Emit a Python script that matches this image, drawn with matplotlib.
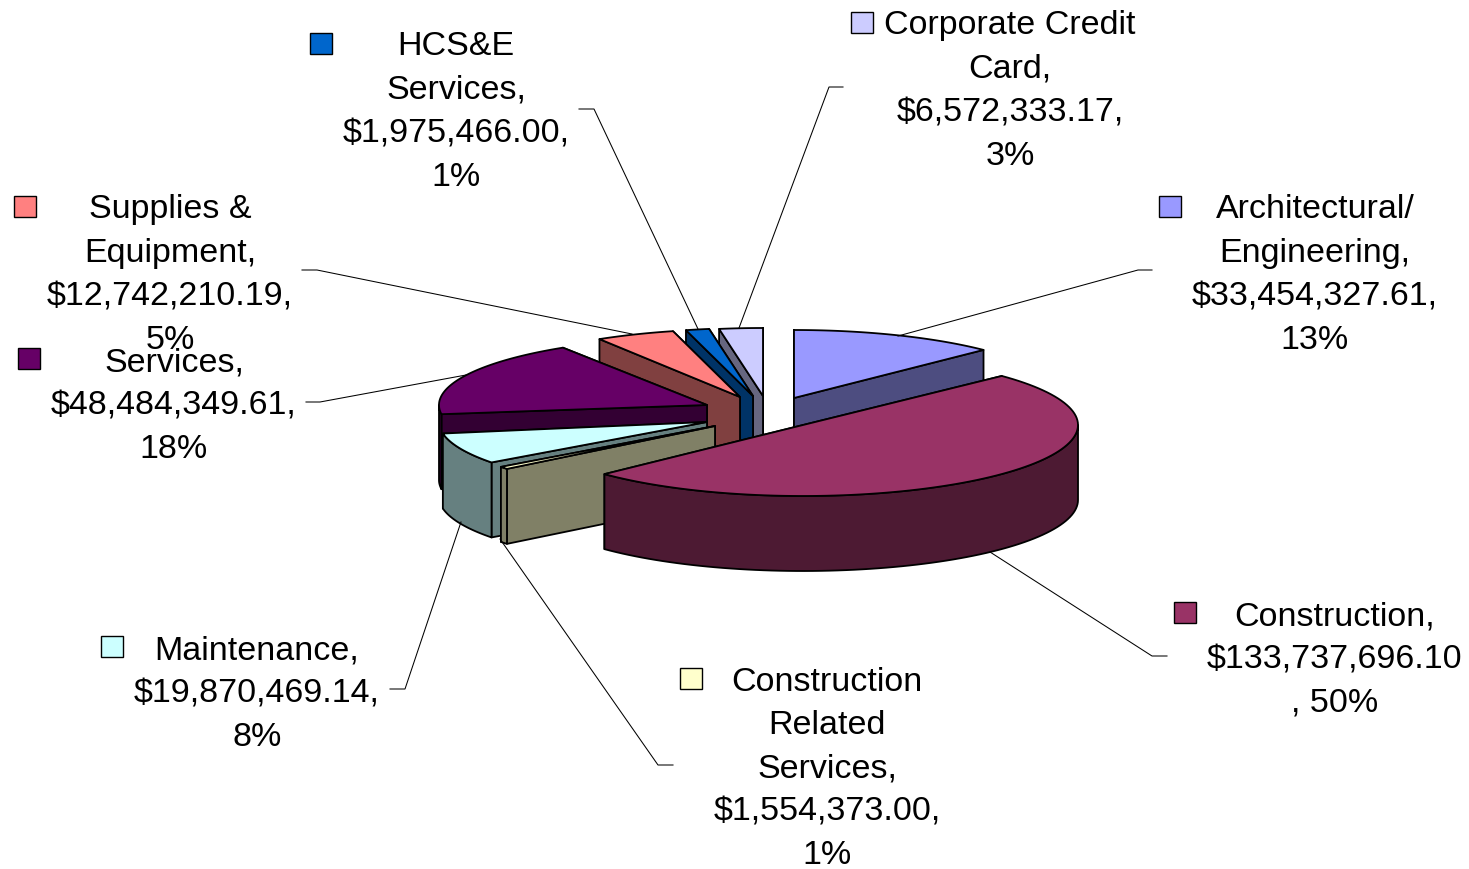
import numpy as np
import matplotlib
matplotlib.use("Agg")
import matplotlib.pyplot as plt
from matplotlib.patches import Polygon, Rectangle

plt.rcParams['font.family'] = ['Liberation Sans', 'DejaVu Sans']

# ---- data, in pie order (clockwise from 12 o'clock)
categories = ["Architectural/Engineering", "Construction", "Construction Related Services",
              "Maintenance", "Services", "Supplies & Equipment", "HCS&E Services",
              "Corporate Credit Card"]
values = [33454327.61, 133737696.10, 1554373.00, 19870469.14,
          48484349.61, 12742210.19, 1975466.00, 6572333.17]
percents = ["13%", "50%", "1%", "8%", "18%", "5%", "1%", "3%"]
# total implied by the printed shares (a slice with no visible mark takes the remainder)
shown_total = 267.6e6

# ---- label line breaks
name_lines = ["Architectural/\nEngineering", "Construction", "Construction\nRelated\nServices",
              "Maintenance", "Services", "Supplies &\nEquipment", "HCS&E\nServices",
              "Corporate Credit\nCard"]

# ---- style
top_colors = ["#9999FF", "#993366", "#FFFFCC", "#CCFFFF", "#660066", "#FF8080", "#0066CC", "#CCCCFF"]
side_colors = ["#4D4D80", "#4D1A33", "#808066", "#668080", "#330033", "#804040", "#003366", "#666680"]

# ---- layout (pixels)
radius_x = [268, 275, 268, 268, 268, 268, 268, 268]
radius_y = [68, 71, 68, 68, 68, 68, 68, 68]
depth = 75
apex_x = [794, 803, 715, 707, 707, 740, 753, 763]
apex_y = [399, 426, 427, 423, 406, 398, 397, 397]
gap_before = [0, 1.3, 4.7, 0.5, 2.0, 0.9, 0.0, 0.0]   # degrees of unmarked pie before each slice
sweep_pad = [0, 0, 0, 0, 0, 0, 2.4, 0]                # thin slice drawn slightly wider
draw_order = [7, 6, 5, 0, 4, 3, 2, 1]
label_x = [1315, 1335, 827, 257, 174, 170, 456, 1010]
label_y = [275, 660, 769, 694, 406, 275, 112, 91]
key_x = [1159, 1174, 680, 101, 18, 14, 310, 851]
key_y = [197, 603, 669, 637, 349, 197, 34, 13]
leaders = [
    [(1152, 271), (1138, 271), (898, 337)],
    [(1167, 657), (1152, 657), (990, 553)],
    [(673, 766), (658, 766), (500, 540)],
    [(390, 690), (405, 690), (461, 523)],
    [(306, 403), (320, 403), (466, 376)],
    [(302, 271), (317, 271), (632, 335)],
    [(579, 110), (594, 110), (698, 330)],
    [(843, 88), (829, 88), (739, 329)],
]

fig = plt.figure(figsize=(14.69, 8.70), dpi=100)
ax = fig.add_axes([0, 0, 1, 1])
ax.set_xlim(0, 1469)
ax.set_ylim(870, 0)
ax.axis("off")

# slice angles from the values
starts, ends = [], []
angle = 0.0
for v, g, p in zip(values, gap_before, sweep_pad):
    angle += g
    sweep = v / shown_total * 360
    starts.append(angle)
    ends.append(angle + sweep + p)
    angle += sweep + p
ends[-1] = 360.0


def rim(i, deg):
    t = np.radians(deg)
    return apex_x[i] + radius_x[i] * np.sin(t), apex_y[i] - radius_y[i] * np.cos(t)


def poly(points, color, z):
    ax.add_patch(Polygon(points, closed=True, facecolor=color, edgecolor="black",
                         linewidth=1.3, joinstyle="round", zorder=z))


z = 2
for i in draw_order:
    s, e = starts[i], ends[i]
    p0 = (apex_x[i], apex_y[i])
    # radial walls: the one nearer the viewer goes last
    wall_angles = [s, e] if (s + e) / 2 < 180 else [e, s]
    for a in wall_angles:
        x, y = rim(i, a)
        poly([p0, (x, y), (x, y + depth), (p0[0], p0[1] + depth)], side_colors[i], z)
        z += 1
    # outer wall, where the rim faces the viewer
    lo, hi = max(s, 90), min(e, 270)
    if hi > lo:
        arc = [rim(i, a) for a in np.linspace(lo, hi, 80)]
        pts = arc + [(x, y + depth) for x, y in reversed(arc)]
        poly(pts, side_colors[i], z)
        z += 1
    # top surface
    arc = [rim(i, a) for a in np.linspace(s, e, 100)]
    poly([p0] + arc, top_colors[i], z)
    z += 1

# leader lines
for pts in leaders:
    xs, ys = zip(*pts)
    ax.plot(xs, ys, color="black", lw=0.75, zorder=z, solid_joinstyle="miter")
z += 1

# labels and keys
for i in range(len(values)):
    amount = f"${values[i]:,.2f}"
    if categories[i] == "Construction":
        text = f"{name_lines[i]},\n{amount}\n, {percents[i]}"
    else:
        text = f"{name_lines[i]},\n{amount},\n{percents[i]}"
    ax.text(label_x[i], label_y[i], text, ha="center", va="center", fontsize=24.5,
            linespacing=1.52, color="black", zorder=z)
    ax.add_patch(Rectangle((key_x[i], key_y[i]), 22, 21, facecolor=top_colors[i],
                           edgecolor="black", linewidth=1.0, zorder=z))

fig.savefig("out.png", dpi=100, facecolor="white")
